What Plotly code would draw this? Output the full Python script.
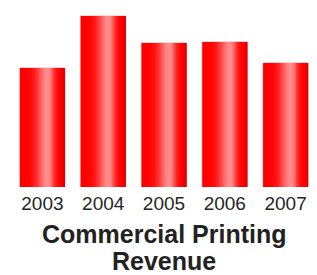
import math
import plotly.graph_objects as go

years = ["2003", "2004", "2005", "2006", "2007"]
revenue = [119, 171, 144, 145, 124]
title_lines = ["Commercial Printing", "Revenue"]

BAR_W = 0.74
N = 30

def slice_color(t):
    s = 0.24 if t < 0.62 else 0.14
    mix = 0.56 * math.exp(-((t - 0.62) / s) ** 2)
    edge = 0.14 * math.exp(-((1 - t) / 0.05) ** 2)
    r = 255 * (1 - edge)
    g = 255 * mix
    b = 255 * mix
    return f"rgb({int(r)},{int(g)},{int(b)})"

fig = go.Figure()
# outline / base bar
fig.add_trace(go.Bar(
    x=years, y=revenue, width=BAR_W,
    marker=dict(color="rgb(255,0,0)", line=dict(width=1, color="rgb(255,170,170)")),
    showlegend=False, hoverinfo="skip",
))
w = BAR_W / N
for i in range(N):
    t = (i + 0.5) / N
    fig.add_trace(go.Bar(
        x=years, y=revenue,
        width=w * 2.0 if i < N - 1 else w,
        offset=-BAR_W / 2 + i * w,
        marker=dict(color=slice_color(t), line=dict(width=0)),
        showlegend=False, hoverinfo="skip",
    ))

fig.update_layout(
    width=317, height=275,
    margin=dict(l=12, r=1, t=10, b=88),
    barmode="overlay",
    plot_bgcolor="white", paper_bgcolor="white",
    xaxis=dict(range=[-0.5, 4.5], showgrid=False, zeroline=False, showline=False, ticks="",
               ticklabelstandoff=3,
               tickfont=dict(family="Liberation Sans, Arial", size=19, color="#262626")),
    yaxis=dict(visible=False, range=[0, 177]),
    annotations=[
        dict(text=f"<b>{title_lines[0]}</b>", x=0.5, xref="paper", y=(187 - 234) / 177, yref="paper",
             showarrow=False, yanchor="middle",
             font=dict(family="Liberation Sans, Arial", size=25, color="#222222")),
        dict(text=f"<b>{title_lines[1]}</b>", x=0.5, xref="paper", y=(187 - 261) / 177, yref="paper",
             showarrow=False, yanchor="middle",
             font=dict(family="Liberation Sans, Arial", size=25, color="#222222")),
    ],
)
fig.write_html("out.html", post_script="document.body.style.margin='0';",
               config={"displayModeBar": False, "staticPlot": True})
